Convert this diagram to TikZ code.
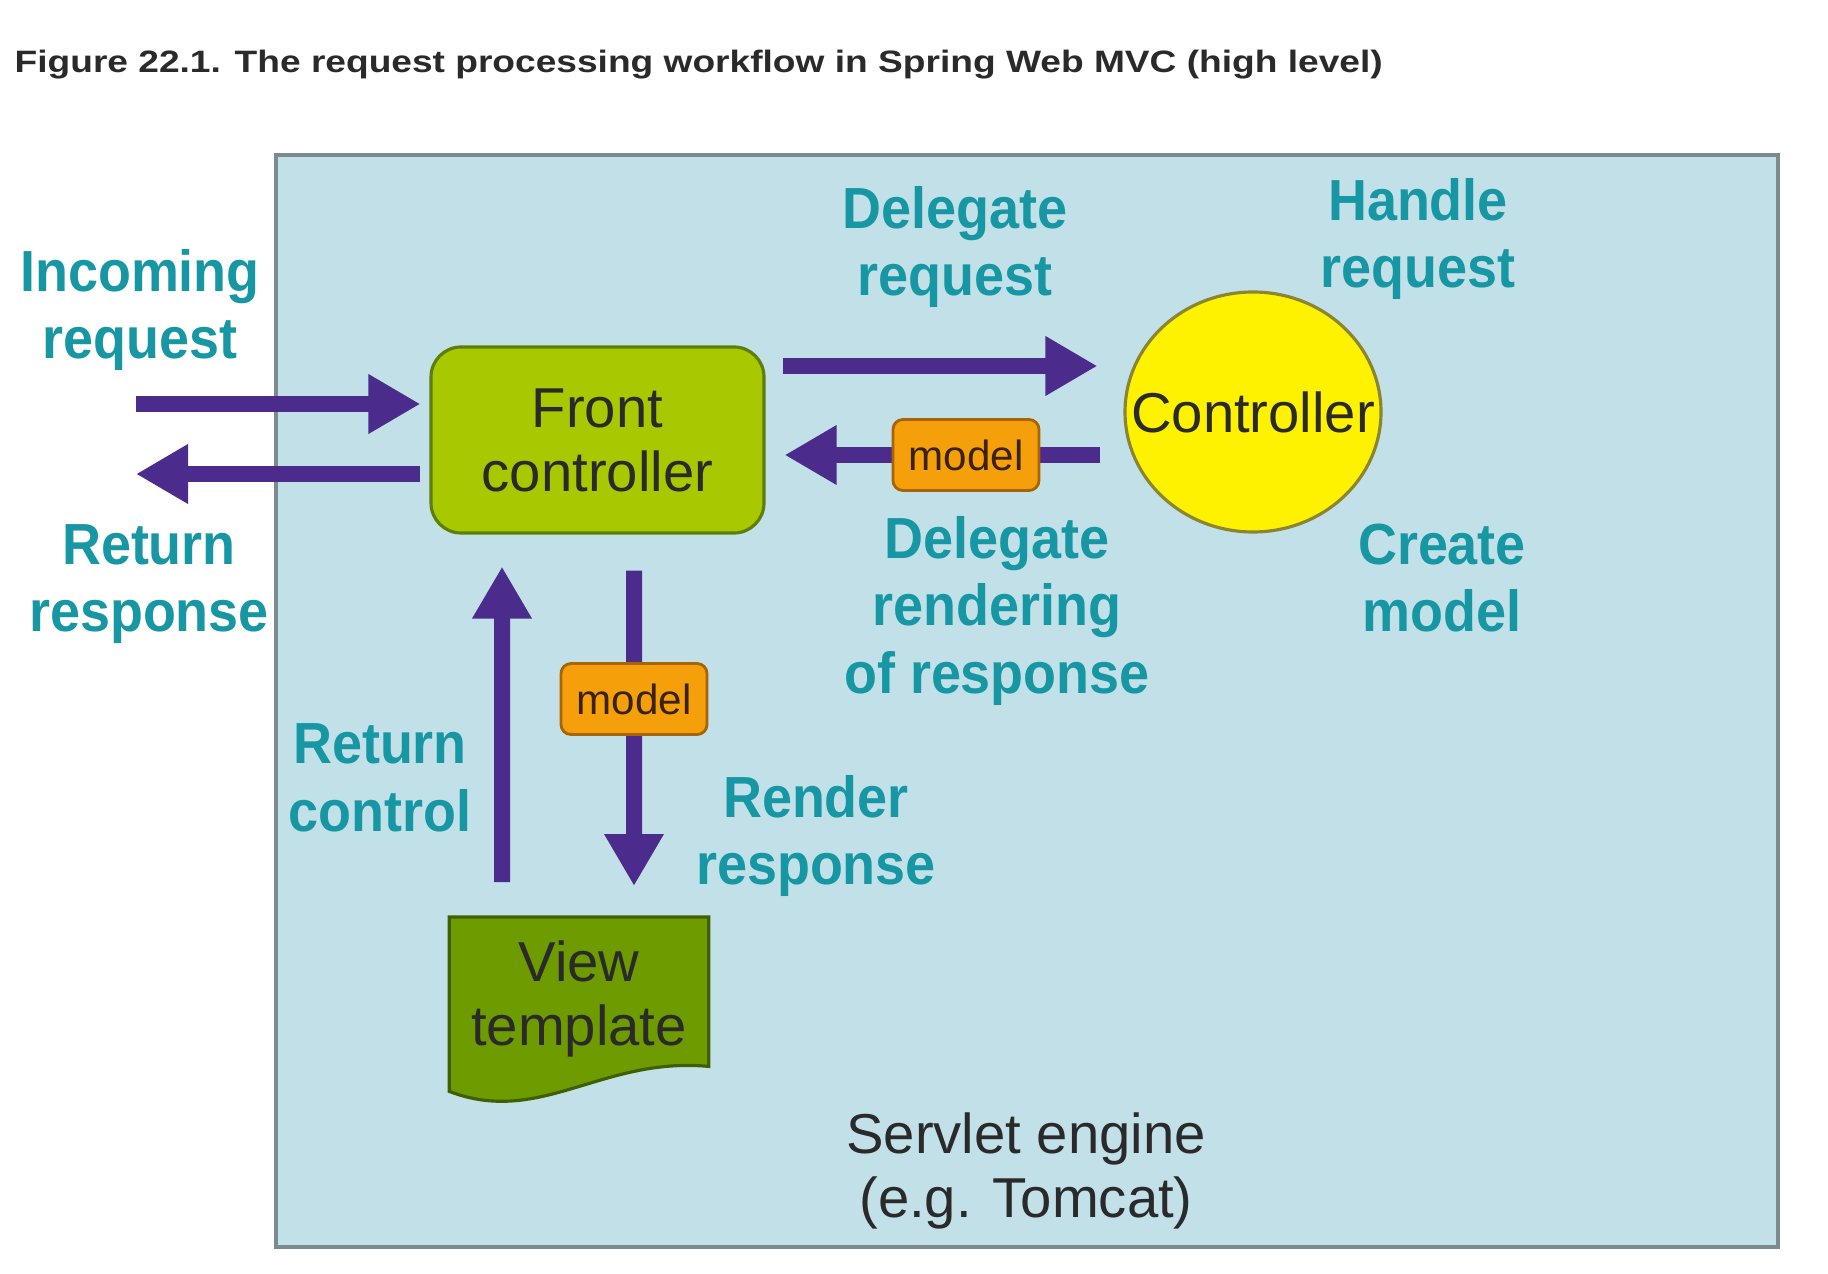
\documentclass[tikz,border=0pt]{standalone}
\usepackage{fontspec}
\setmainfont{Liberation Sans}
\newfontfamily\labelfont[FakeStretch=0.93]{Liberation Sans}
\newfontfamily\titlefont[FakeStretch=1.2]{Liberation Sans}
\usepackage{xcolor}
\usetikzlibrary{arrows.meta,shapes.geometric,backgrounds}
\definecolor{EngineBlue}{HTML}{C1E0E7}
\definecolor{EngineBorder}{HTML}{7C8B8E}
\definecolor{LabelTeal}{HTML}{1796A3}
\definecolor{ArrowPurple}{HTML}{4B2B8C}
\definecolor{FrontGreen}{HTML}{A8C800}
\definecolor{FrontBorder}{HTML}{5E7D0A}
\definecolor{CtlYellow}{HTML}{FFF200}
\definecolor{CtlBorder}{HTML}{8A8530}
\definecolor{ViewGreen}{HTML}{6E9B00}
\definecolor{ViewBorder}{HTML}{3F5F00}
\definecolor{ModelOrange}{HTML}{F5A00A}
\definecolor{ModelBorder}{HTML}{A86400}
\definecolor{ModelText}{HTML}{3A2200}
\definecolor{TextDark}{HTML}{2A2A2A}
\tikzset{
BigArrow/.style={
 draw=ArrowPurple,
 line width=0.16cm,
 -{Triangle[length=0.52cm,width=0.56cm]}
 },
TealLabel/.style={
 text=LabelTeal,
 font=\labelfont\bfseries\fontsize{16.5}{19.2}\selectfont,
 align=center,
 inner sep=0pt
 },
PlainText/.style={
 text=TextDark,
 font=\fontsize{16}{18.2}\selectfont,
 align=center,
 inner sep=0pt
 },
FrontBox/.style={
 PlainText,
 draw=FrontBorder,
 fill=FrontGreen,
 line width=0.9pt,
 rounded corners=0.3cm,
 minimum width=3.33cm,
 minimum height=1.86cm
 },
CtlEllipse/.style={
 PlainText,
 ellipse,
 draw=CtlBorder,
 fill=CtlYellow,
 line width=0.9pt,
 minimum width=2.56cm,
 minimum height=2.40cm
 },
ViewShape/.style={
 draw=ViewBorder,
 fill=ViewGreen,
 line width=0.9pt
 },
ModelBox/.style={
 draw=ModelBorder,
 fill=ModelOrange,
 line width=0.8pt,
 rounded corners=0.1cm,
 text=ModelText,
 font=\fontsize{12}{14}\selectfont,
 inner sep=0pt,
 minimum width=1.46cm,
 minimum height=0.71cm
 }
}

\begin{document}
\begin{tikzpicture}
\useasboundingbox (0,0) rectangle (18.28,-12.74);
\node[anchor=west, inner sep=0pt, text=TextDark,
 font=\titlefont\bfseries\fontsize{8.8}{10}\selectfont] (title) at (0.14,-0.65)
 {Figure 22.1. The request processing workflow in Spring Web MVC (high level)};
% boxes
\node[FrontBox] (fc) at (5.975,-4.40) {Front\\controller};
\node[CtlEllipse] (ctl) at (12.53,-4.12) {\makebox[0pt]{Controller}};
\node[PlainText, anchor=north, minimum width=2.58cm, minimum height=1.62cm] (vt) at (5.79,-9.17) {View\\template};
\begin{scope}[on background layer]
\fill[EngineBlue, draw=EngineBorder, line width=1.3pt] (2.76,-1.55) rectangle (17.78,-12.47);
\draw[ViewShape] (vt.north west) -- (vt.north east) -- ([yshift=0.14cm]vt.south east)
 .. controls +(-1.07,0.10) and +(0.91,-0.35) .. ([yshift=-0.11cm]vt.south west) -- cycle;
\end{scope}
\node[PlainText] (engine) at (10.26,-11.71) {Servlet engine\\(e.g. Tomcat)};
% arrows
\coordinate (inL) at (1.36,-4.04);
\coordinate (outL) at (1.36,-4.74);
\draw[BigArrow, shorten >=0.09cm] (inL) -- (inL -| fc.west);
\draw[BigArrow, shorten <=0.09cm] (outL -| fc.west) -- (outL);
\draw[BigArrow, shorten <=0.17cm, shorten >=0.26cm] ([yshift=0.74cm]fc.east) -- ([yshift=0.46cm]ctl.west);
\draw[BigArrow, shorten <=0.23cm, shorten >=0.19cm] ([yshift=-0.43cm]ctl.west) -- ([yshift=-0.15cm]fc.east)
 node[ModelBox, pos=0.44] (m1) {model};
\draw[BigArrow, shorten <=0.36cm, shorten >=0.31cm] ([xshift=0.365cm]fc.south) -- ([xshift=0.55cm]vt.north)
 node[ModelBox, pos=0.43] (m2) {model};
\draw[BigArrow, shorten <=0.35cm, shorten >=0.32cm] ([xshift=-0.77cm]vt.north) -- ([xshift=-0.955cm]fc.south);
% labels
\node[TealLabel] (lin) at (1.40,-3.10) {Incoming\\request};
\node[TealLabel] (lout) at (1.49,-5.84) {Return\\response};
\node[TealLabel] (ldel) at (9.55,-2.47) {Delegate\\request};
\node[TealLabel] (lhan) at (14.18,-2.39) {Handle\\request};
\node[TealLabel] (lrend) at (9.97,-6.11) {Delegate\\rendering\\of response};
\node[TealLabel] (lcre) at (14.42,-5.78) {Create\\model};
\node[TealLabel] (lret) at (3.80,-7.78) {Return\\control};
\node[TealLabel] (lrr) at (8.16,-8.36) {Render\\response};
\end{tikzpicture}
\end{document}
